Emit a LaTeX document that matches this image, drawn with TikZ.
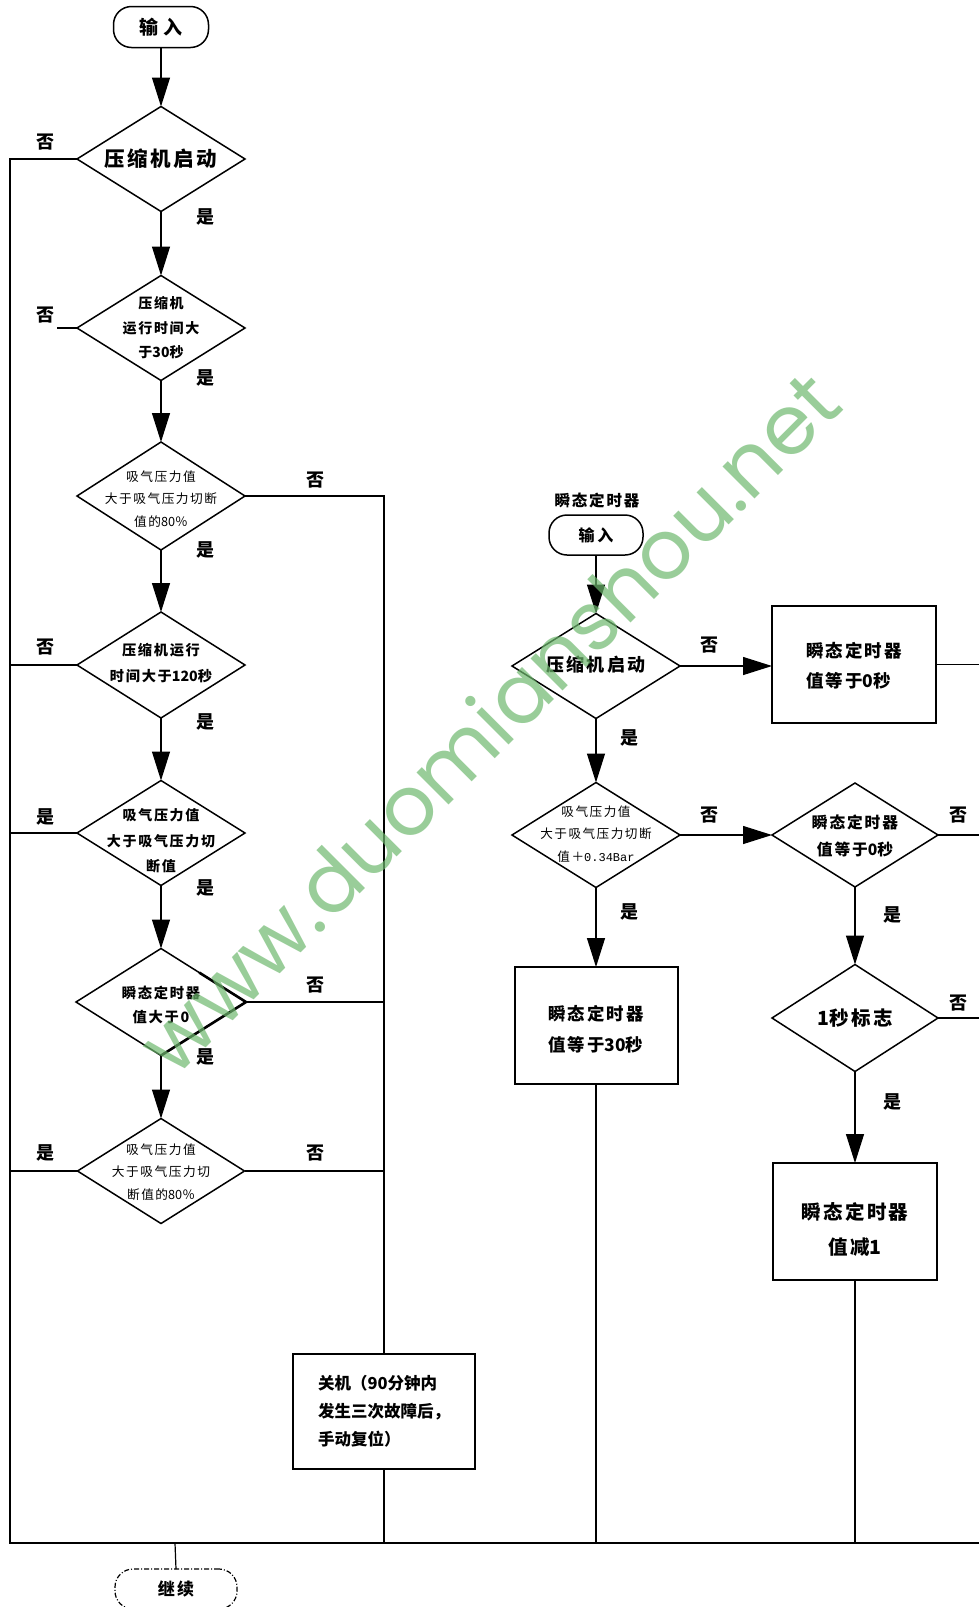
\documentclass[tikz,border=0pt]{standalone}
\usepackage{fontspec}
\usetikzlibrary{shapes.geometric,arrows.meta,calc}
\newfontfamily\cjk{Noto Sans CJK SC}
\newfontfamily\cjks{Noto Sans CJK SC}[LetterSpace=12]
\newfontfamily\monof{Liberation Mono}
\newfontfamily\wmfont{Poppins}
\newcommand{\fs}[2]{\fontsize{#1}{#2}\selectfont}
\newcommand{\dg}[1]{{\cjk #1}}
\definecolor{wmgreen}{RGB}{110,185,110}
\begin{document}
\begin{tikzpicture}[x=1pt,y=-1pt,
  conn/.style={line width=1.2pt,black,line cap=butt},
  arr/.style={conn,-{Triangle[length=29pt,width=18pt]}},
  dia/.style={diamond,draw,line width=1.5pt,inner sep=0pt,outer sep=0pt},
  box/.style={rectangle,draw,line width=2pt,inner sep=0pt,outer sep=0pt},
  term/.style={rectangle,rounded corners=18pt,draw,line width=1.5pt,inner sep=0pt,outer sep=0pt},
  tx/.style={inner sep=0pt,align=center},
  yn/.style={inner sep=0pt,font=\cjk\bfseries\fs{18}{18}}
]
\useasboundingbox (0,0) rectangle (979,1607);
\fill[white] (0,0) rectangle (979,1607);

% ---------- left column ----------
\node[term,minimum width=95pt,minimum height=41pt,font=\cjk\bfseries\fs{19}{19}] (t1) at (161,27) {输\hspace{6pt}入};
\node[dia,minimum width=168pt,minimum height=105pt] (d1) at (161,159) {};
\node[tx,font=\cjks\bfseries\fs{20.5}{24}] (d1t) at (161,159) {压缩机启动};
\node[dia,minimum width=168pt,minimum height=105pt] (d2) at (161,328) {};
\node[tx,font=\cjks\bfseries\fs{14}{24.5}] (d2t) at (161,328) {压缩机\\运行时间大\\于\dg{30}秒};
\node[dia,minimum width=168pt,minimum height=108pt] (d3) at (161,496) {};
\node[tx,font=\cjks\fs{12.7}{22.5}] (d3t) at (161,499) {吸气压力值\\大于吸气压力切断\\值的\dg{80％}};
\node[dia,minimum width=168pt,minimum height=106pt] (d4) at (161,665) {};
\node[tx,font=\cjks\bfseries\fs{14.2}{26}] (d4t) at (161,663) {压缩机运行\\时间大于\dg{120}秒};
\node[dia,minimum width=168pt,minimum height=105pt] (d5) at (161,833) {};
\node[tx,font=\cjks\bfseries\fs{14}{25.5}] (d5t) at (161,841) {吸气压力值\\大于吸气压力切\\断值};
\node[dia,minimum width=170pt,minimum height=107pt] (d6) at (161,1002) {};
\node[tx,font=\cjks\bfseries\fs{14.3}{24}] (d6t) at (161,1005) {瞬态定时器\\值大于0};
\node[dia,minimum width=167pt,minimum height=105pt] (d7) at (161,1171) {};
\node[tx,font=\cjks\fs{12.7}{22.5}] (d7t) at (161,1172) {吸气压力值\\大于吸气压力切\\断值的\dg{80％}};
\node[box,minimum width=182pt,minimum height=115pt,align=left,font=\cjk\bfseries\fs{16.5}{28}] (bx) at (384,1411.5) {关机（90分钟内\\发生三次故障后，\\手动复位）};
\node[term,dash pattern=on 5pt off 2pt on 1pt off 2pt,line width=1.2pt,minimum width=122pt,minimum height=40pt,font=\cjks\bfseries\fs{17}{17}] (t2) at (176,1589) {继续};

\draw[line width=2.6pt,line join=round] ($(d6.north)!0.45!(d6.east)$) -- (d6.east) -- (d6.south);

% ---------- right column ----------
\node[tx,font=\cjks\bfseries\fs{15.5}{16}] (lbl) at (597,500) {瞬态定时器};
\node[term,minimum width=94pt,minimum height=40pt,font=\cjk\bfseries\fs{16}{16}] (t3) at (596,535) {输\hspace{3pt}入};
\node[dia,minimum width=168pt,minimum height=105pt] (r1) at (596,666) {};
\node[tx,font=\cjks\bfseries\fs{18}{20}] (r1t) at (596,665) {压缩机启动};
\node[box,minimum width=164pt,minimum height=117pt] (b1) at (854,664.5) {};
\node[tx,align=left,font=\cjks\bfseries\fs{17.5}{30}] (b1t) at (854,666) {瞬态定时器\\值等于\dg{0}秒};
\node[dia,minimum width=168pt,minimum height=105pt] (r2) at (596,835) {};
\node[tx,font=\cjks\fs{12.6}{22.5}] (r2t) at (596,834) {吸气压力值\\大于吸气压力切断\\值＋{\monof\fs{12}{22.5}0.34Bar}};
\node[dia,minimum width=166pt,minimum height=104pt] (r3) at (855,835) {};
\node[tx,font=\cjks\bfseries\fs{15.7}{27}] (r3t) at (855,836) {瞬态定时器\\值等于\dg{0}秒};
\node[box,minimum width=163pt,minimum height=117pt] (b2) at (596,1025.5) {};
\node[tx,align=left,font=\cjks\bfseries\fs{17.4}{31}] (b2t) at (596,1029) {瞬态定时器\\值等于\dg{30}秒};
\node[dia,minimum width=166pt,minimum height=107pt] (r4) at (855,1018) {};
\node[tx,font=\cjks\bfseries\fs{19.5}{20}] (r4t) at (855,1018) {\dg{1}秒标志};
\node[box,minimum width=164pt,minimum height=117pt] (b3) at (855,1221.5) {};
\node[tx,font=\cjks\bfseries\fs{19.5}{35}] (b3t) at (855,1229) {瞬态定时器\\值减\dg{1}};

% ---------- coordinates ----------
\coordinate (lt) at (10,159);
\coordinate (lb) at (10,1543);
\coordinate (rb) at (979,1543);
\coordinate (s2) at (57,328);
\coordinate (vt) at (384,496);
\coordinate (cj) at (175,1543);

% ---------- connectors ----------
\draw[arr] (t1.south) -- (d1.north);
\draw[arr] (d1.south) -- (d2.north);
\draw[arr] (d2.south) -- (d3.north);
\draw[arr] (d3.south) -- (d4.north);
\draw[arr] (d4.south) -- (d5.north);
\draw[arr] (d5.south) -- (d6.north);
\draw[arr] (d6.south) -- (d7.north);
\draw[conn] (d1.west) -- (lt) -- (lb) -- (rb);
\draw[conn] (d2.west) -- (s2);
\draw[conn] (d4.west) -- (d4.west -| lt);
\draw[conn] (d5.west) -- (d5.west -| lt);
\draw[conn] (d7.west) -- (d7.west -| lt);
\draw[conn] (d3.east) -- (vt) -- (bx.north);
\draw[conn] (d6.east) -- (d6.east -| vt);
\draw[conn] (d7.east) -- (d7.east -| vt);
\draw[conn] (bx.south) -- (bx.south |- lb);
\draw[conn] (cj) -- (t2.north);

\draw[arr] (t3.south) -- (r1.north);
\draw[arr] (r1.east) -- (r1.east -| b1.west);
\draw[conn] (b1.east) -- (b1.east -| rb);
\draw[arr] (r1.south) -- (r2.north);
\draw[arr] (r2.east) -- (r3.west);
\draw[conn] (r3.east) -- (r3.east -| rb);
\draw[arr] (r2.south) -- (b2.north);
\draw[arr] (r3.south) -- (r4.north);
\draw[conn] (r4.east) -- (r4.east -| rb);
\draw[arr] (r4.south) -- (b3.north);
\draw[conn] (b2.south) -- (b2.south |- lb);
\draw[conn] (b3.south) -- (b3.south |- lb);

% ---------- yes/no labels ----------
\node[yn] (n1) at (45,142) {否};
\node[yn] (y1) at (205,217) {是};
\node[yn] (n2) at (45,315) {否};
\node[yn] (y2) at (205,378) {是};
\node[yn] (n3) at (315,480) {否};
\node[yn] (y3) at (205,550) {是};
\node[yn] (n4) at (45,647) {否};
\node[yn] (y4) at (205,722) {是};
\node[yn] (y5l) at (45,817) {是};
\node[yn] (y5) at (205,888) {是};
\node[yn] (n6) at (315,985) {否};
\node[yn] (y6) at (205,1057) {是};
\node[yn] (y7l) at (45,1153) {是};
\node[yn] (n7) at (315,1153) {否};
\node[yn] (rn1) at (709,645) {否};
\node[yn] (ry1) at (629,738) {是};
\node[yn] (rn2) at (709,815) {否};
\node[yn] (ry2) at (629,912) {是};
\node[yn] (rn3) at (958,815) {否};
\node[yn] (ry3) at (892,915) {是};
\node[yn] (rn4) at (958,1003) {否};
\node[yn] (ry4) at (892,1102) {是};

% ---------- watermark ----------
\node[rotate=45,text=wmgreen,opacity=0.7,inner sep=0pt] (wm) at (488,722) {\resizebox{950pt}{!}{\wmfont www.duomianshou.net}};
\end{tikzpicture}
\end{document}
